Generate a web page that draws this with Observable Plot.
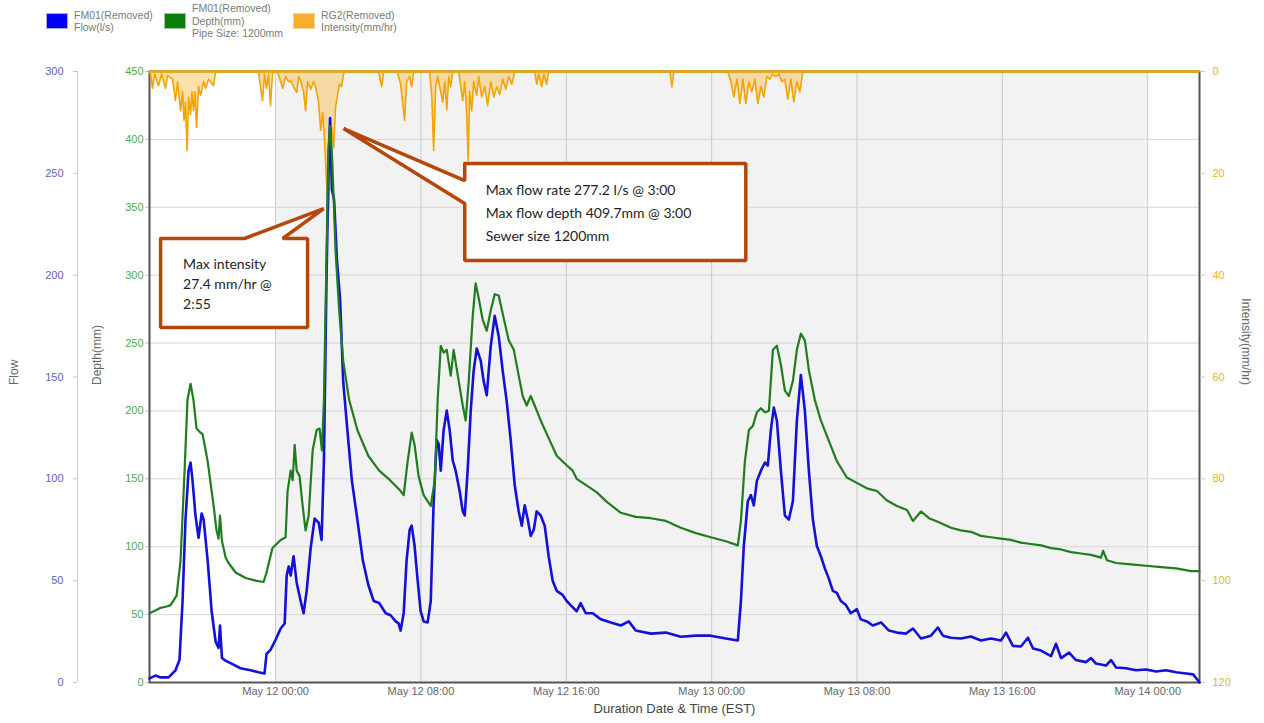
<!DOCTYPE html>
<html>
<head>
<meta charset="utf-8">
<script src="https://cdn.jsdelivr.net/npm/d3@7"></script>
<script src="https://cdn.jsdelivr.net/npm/@observablehq/plot@0.6"></script>
<style>
  body { margin: 0; background: #fff; font-family: "Liberation Sans", Arial, sans-serif; }
  #chart { position: relative; width: 1264px; height: 723px; overflow: hidden; }
  #chart > svg { position: absolute; left: 0; top: 0; }
  #legend { position: absolute; left: 46px; top: 2px; height: 38px; display: flex; align-items: center; z-index: 10; }
  .item { display: flex; align-items: center; }
  .item:nth-child(1) { width: 118px; }
  .item:nth-child(2) { width: 129px; }
  .sw { width: 20px; height: 14px; margin-right: 6px; border: 1px solid #ccc; }
  .txt { font-size: 10.5px; line-height: 12.5px; color: #7a7a7a; }
</style>
</head>
<body>
<div id="chart"><div id="legend"></div></div>
<script>
// ---- Data (time = hours relative to May 12 00:00) ----
const depthSeries = [
 [-6.94,51],[-6.61,53],[-6.33,55],[-6.0,56],[-5.78,57],[-5.45,64],[-5.23,90],[-5.01,156],[-4.85,208],[-4.68,220],
 [-4.52,208],[-4.35,187],[-4.13,184],[-4.02,183],[-3.74,163],[-3.41,130],[-3.25,112],[-3.14,106],[-3.06,123],[-2.95,104],
 [-2.75,92],[-2.59,88],[-2.20,81],[-1.65,77],[-1.10,75],[-0.66,74],[-0.50,81],[-0.17,99],[0.28,105],[0.55,107],
 [0.66,141],[0.83,156],[0.94,149],[1.05,175],[1.16,156],[1.32,152],[1.49,130],[1.65,112],[1.82,123],[2.04,171],
 [2.26,186],[2.42,187],[2.55,171],[2.66,208],[2.80,311],[2.90,392],[3.00,409.7],[3.12,384],[3.30,318],[3.50,274],
 [3.72,237],[4.05,208],[4.5,186],[5.1,167],[5.7,156],[6.3,149],[6.88,141],[7.05,138],[7.27,163],[7.49,184],
 [7.65,175],[7.87,152],[8.15,138],[8.54,130],[8.76,149],[8.92,208],[9.09,248],[9.25,243],[9.42,245],[9.64,226],
 [9.80,245],[10.08,222],[10.30,204],[10.46,193],[10.63,222],[10.85,270],[11.01,294],[11.18,283],[11.40,267],[11.62,259],
 [11.84,274],[12.06,286],[12.28,285],[12.56,268],[12.83,252],[13.11,245],[13.38,226],[13.60,211],[13.82,204],[14.04,211],
 [14.26,204],[14.59,193],[15.03,180],[15.47,167],[16.02,160],[16.35,156],[16.57,150],[17.13,145],[17.68,140],[18.23,133],
 [19.00,125],[19.82,122],[20.65,121],[21.48,119],[22.30,114],[23.13,110],[23.95,107],[24.78,104],[25.44,101],[25.61,119],
 [25.83,163],[26.05,186],[26.27,189],[26.49,199],[26.71,202],[26.93,199],[27.15,200],[27.37,245],[27.59,248],[27.81,234],
 [28.03,215],[28.25,211],[28.47,222],[28.69,245],[28.91,257],[29.13,252],[29.35,230],[29.68,208],[30.01,193],[30.45,178],
 [30.89,163],[31.44,151],[31.99,147],[32.54,143],[33.10,141],[33.65,134],[34.20,130],[34.75,127],[35.08,119],[35.52,126],
 [35.96,121],[36.51,118],[37.17,114],[37.72,112],[38.27,111],[38.82,108],[39.37,107],[39.92,106],[40.47,105],[41.02,103],
 [41.57,102],[42.13,101],[42.68,99],[43.23,98],[43.78,96],[44.33,95],[44.88,94],[45.43,92],[45.54,97],[45.76,90],
 [46.26,88],[47.08,87],[47.91,86],[48.73,85],[49.56,84],[50.39,82],[50.85,82]
];
const flowSeries = [
 [-6.94,2],[-6.61,3.4],[-6.33,2.5],[-5.89,2.5],[-5.51,6],[-5.29,11],[-5.12,40],[-4.96,80],[-4.79,104],[-4.68,108],
 [-4.57,99],[-4.41,82],[-4.24,71],[-4.07,83],[-3.96,80],[-3.74,60],[-3.52,35],[-3.30,20],[-3.14,17],[-3.06,28],
 [-2.95,12],[-2.81,11],[-2.37,9],[-1.93,7],[-1.38,6],[-0.94,5],[-0.61,4.4],[-0.50,14],[-0.28,16],[0,21],
 [0.28,26.5],[0.50,29],[0.61,52.5],[0.72,57],[0.83,52.5],[0.99,62],[1.16,49],[1.38,40],[1.54,34],[1.71,45],
 [1.93,66],[2.15,80.5],[2.37,78.5],[2.53,70],[2.66,109],[2.80,197],[2.90,246],[2.95,264],[3.00,277.2],[3.10,242],
 [3.22,237],[3.38,207],[3.55,188],[3.72,148],[3.95,124],[4.2,99],[4.5,80],[4.8,60],[5.1,48],[5.4,40],
 [5.7,39],[6.06,34],[6.33,33],[6.61,30],[6.77,29],[6.88,25.5],[7.05,34],[7.21,60],[7.38,75],[7.49,77],
 [7.65,67],[7.82,50],[7.98,35],[8.15,30],[8.37,29.5],[8.54,40],[8.70,89],[8.87,119],[8.98,117],[9.09,104],
 [9.25,124],[9.42,133.5],[9.58,124],[9.75,109],[9.91,104],[10.13,94],[10.30,84],[10.41,82],[10.57,104],[10.74,133.5],
 [10.90,153],[11.07,164],[11.29,158],[11.45,148],[11.62,141],[11.84,165],[12.06,180],[12.28,170],[12.50,153],[12.72,138],
 [12.94,119],[13.16,97],[13.38,84],[13.55,77],[13.71,87],[13.88,80],[14.04,72],[14.21,75],[14.37,84],[14.59,82],
 [14.81,77],[15.03,62],[15.25,50],[15.47,45],[15.80,43],[16.02,40],[16.24,38],[16.57,35],[16.79,39],[17.07,34],
 [17.46,34],[17.90,31],[18.45,29.5],[19.00,28],[19.44,30],[19.82,25.5],[20.65,24],[21.48,24.5],[22.30,22.5],[23.13,23],
 [23.95,23],[24.78,21.6],[25.44,20.6],[25.61,40],[25.77,67],[25.99,89],[26.16,92],[26.32,87],[26.49,99],[26.71,104],
 [26.93,108],[27.09,106.5],[27.26,124],[27.42,135],[27.59,128.6],[27.81,104],[28.03,82],[28.25,80],[28.47,89],[28.69,128.6],
 [28.91,151],[29.13,133.5],[29.35,104],[29.57,80],[29.79,67],[30.01,62],[30.23,56],[30.45,51],[30.67,45],[30.89,44],
 [31.11,40],[31.39,38],[31.66,34],[31.99,36],[32.21,31],[32.54,30],[32.87,28],[33.32,29.5],[33.76,25.5],[34.20,24.5],
 [34.69,24],[35.08,26.5],[35.52,21.6],[36.07,23],[36.45,27],[36.73,23],[37.17,22],[37.72,21.6],[38.27,22.6],[38.82,20.6],
 [39.37,21.6],[39.92,20.6],[40.20,24.5],[40.58,18],[41.02,17.7],[41.41,22],[41.69,16.7],[42.13,15.7],[42.68,13],[42.95,19],
 [43.23,12],[43.67,14.7],[44.05,11],[44.60,10],[44.88,12],[45.15,9.3],[45.70,8.3],[45.98,11],[46.26,7.4],[46.81,7],
 [47.36,6],[47.91,6.4],[48.46,5.4],[49.01,6],[49.56,5],[50.11,4.4],[50.50,4],[50.77,1],[50.85,0]
];
const intensitySeries = [
 [-6.94,0],[-6.88,0.5],[-6.77,3.3],[-6.66,0.5],[-6.44,2.8],[-6.28,0.5],[-6.06,3.3],[-5.95,0.8],[-5.67,1.5],[-5.51,5.7],
 [-5.40,2],[-5.23,7.7],[-5.12,4],[-5.04,9.6],[-4.96,6],[-4.87,15.5],[-4.79,5],[-4.68,8.5],[-4.60,4],[-4.52,7.7],
 [-4.44,4],[-4.35,11],[-4.24,3],[-4.13,4.7],[-3.96,2],[-3.85,3.3],[-3.69,1.5],[-3.58,2],[-3.41,2.8],[-3.30,0],
 [-0.94,0],[-0.72,5.7],[-0.61,0.5],[-0.50,3.3],[-0.39,0.5],[-0.28,6.7],[-0.17,0.3],[0.1,0],[0.28,2],[0.39,3.3],
 [0.55,1],[0.72,2],[0.83,1.8],[0.99,3],[1.16,4.1],[1.27,1],[1.38,1.8],[1.54,4],[1.65,7.7],[1.76,2],
 [1.93,3.5],[2.09,2],[2.20,3],[2.37,6],[2.48,11.6],[2.59,8],[2.70,14],[2.81,22],[2.92,27.4],[3.00,18],
 [3.08,11],[3.19,15],[3.30,7],[3.41,4.5],[3.52,2.5],[3.63,3],[3.74,0.5],[3.85,0],
 [5.67,0],[5.84,3],[5.95,0],
 [6.70,0],[6.88,2.5],[6.99,6],[7.10,9.6],[7.21,2],[7.38,1],[7.49,3],[7.60,0],
 [8.48,0],[8.60,5],[8.70,15.5],[8.81,3],[8.92,1],[9.09,4],[9.20,6],[9.31,2],[9.42,7.5],[9.53,1],[9.64,3],[9.75,0],
 [10.08,0],[10.19,3],[10.30,5.7],[10.41,2],[10.52,8.5],[10.60,17.5],[10.68,4],[10.79,7.7],[10.90,2],[11.07,4.7],
 [11.18,1],[11.34,5],[11.51,3],[11.67,6.7],[11.84,2],[12.01,5],[12.17,3],[12.34,4.5],[12.50,1.5],[12.67,3.5],
 [12.83,1],[13.00,2.5],[13.16,0],
 [14.26,0],[14.37,2.5],[14.48,0.5],[14.65,3],[14.76,0.5],[14.92,2.5],[15.03,0],
 [21.70,0],[21.81,3],[21.92,0],
 [24.89,0],[25.06,2],[25.22,5],[25.39,1.5],[25.55,6.3],[25.72,1.5],[25.88,6.3],[26.05,2],[26.21,4],[26.38,1.5],
 [26.54,6.3],[26.71,3],[26.87,5],[27.04,1],[27.20,1.5],[27.37,0.5],[27.53,1],[27.70,0.5],[27.86,2],[28.03,1.5],
 [28.19,5.5],[28.36,1.5],[28.52,6],[28.69,2],[28.85,4],[29.02,0],
 [50.85,0]
];
const xTickHours = [0, 8, 16, 24, 32, 40, 48];
const shadedBands = [[0, 48]];
const depthTicks = [0, 50, 100, 150, 200, 250, 300, 350, 400, 450];
const flowTicks = [0, 50, 100, 150, 200, 250, 300];
const intensityTicks = [0, 20, 40, 60, 80, 100, 120];
const legendItems = [
  {color: "#0000f0", border: "#a8a8e8", lines: ["FM01(Removed)", "Flow(l/s)"]},
  {color: "#0b7d0b", border: "#9cc89c", lines: ["FM01(Removed)", "Depth(mm)", "Pipe Size: 1200mm"]},
  {color: "#f7ae2a", border: "#f6d29a", lines: ["RG2(Removed)", "Intensity(mm/hr)"]}
];
// callout outlines in data units [hour, depth mm]
const calloutFlow = [[10.41,382.2],[25.88,382.2],[25.88,310.8],[10.41,310.8],[10.41,352.8],[3.74,408],[10.41,369.7],[10.41,382.2]];
const calloutIntensity = [[-6.33,327],[-1.71,327],[2.65,349],[0.39,327],[1.76,327],[1.76,261.5],[-6.33,261.5],[-6.33,327]];
const calloutFlowText = {h: 11.56, depth: 347.6, text: "Max flow rate 277.2 l/s @ 3:00\nMax flow depth 409.7mm @ 3:00\nSewer size 1200mm"};
const calloutIntensityText = {h: -5.09, depth: 294.6, text: "Max intensity\n27.4 mm/hr @\n2:55"};

// ---- Helpers ----
const BASE = new Date(2023, 4, 12, 0, 0);
const t = h => new Date(+BASE + h * 3600e3);
const X = d => t(d[0]);
const Y = d => d[1];
const xDomain = [t(depthSeries[0][0]), t(depthSeries[depthSeries.length - 1][0])];
const xTicks = xTickHours.map(t);
const chart = document.getElementById("chart");
const dims = {width: 1264, height: 723, marginLeft: 149, marginRight: 65, marginTop: 71, marginBottom: 41};
const style = {background: "transparent", fontFamily: "'Liberation Sans', Arial, sans-serif", fontSize: "11px", color: "#555", overflow: "visible"};
function layer(opts) {
  const svg = Plot.plot({...dims, style, ...opts});
  chart.appendChild(svg);
}

// ---- Base layer: background, grid, depth axis, x axis ----
layer({
  x: {type: "time", domain: xDomain},
  y: {domain: [0, 450]},
  marks: [
    Plot.rect(shadedBands, {x1: d => t(d[0]), x2: d => t(d[1]), fill: "#f2f2f2"}),
    Plot.gridX(xTicks, {stroke: "#c9c9c9", strokeOpacity: 1}),
    Plot.gridY(depthTicks, {stroke: "#d6d6d6", strokeOpacity: 1}),
    Plot.axisY(depthTicks, {anchor: "left", tickSize: 4, tickPadding: 2, fill: "#4fa94f", stroke: "#c4c4c4", label: null}),
    Plot.axisX(xTicks, {anchor: "bottom", tickSize: 0, tickPadding: 5, tickFormat: d3.timeFormat("%b %d %H:%M"), fill: "#666", label: null}),
    Plot.frame({stroke: "#555", strokeWidth: 2}),
    Plot.text(["Depth(mm)"], {frameAnchor: "left", rotate: -90, dx: -52, dy: 8, fill: "#666", fontSize: 12}),
    Plot.text(["Flow"], {frameAnchor: "left", rotate: -90, dx: -135, dy: 8, fill: "#666", fontSize: 12}),
    Plot.text(["Duration Date & Time (EST)"], {frameAnchor: "bottom", dy: 30, fill: "#444", fontSize: 13})
  ]
});

// ---- Intensity layer (reversed axis on the right) ----
layer({
  x: {type: "time", domain: xDomain, axis: null},
  y: {domain: [0, 120], reverse: true},
  marks: [
    Plot.areaY(intensitySeries, {x: X, y1: 0, y2: Y, fill: "#fbc566", fillOpacity: 0.55}),
    Plot.lineY(intensitySeries, {x: X, y: Y, stroke: "#f4a300", strokeWidth: 1.6}),
    Plot.ruleY([0], {stroke: "#e9a80d", strokeWidth: 2.5}),
    Plot.axisY(intensityTicks, {anchor: "right", tickSize: 5, tickPadding: 8, fill: "#e6b52a", stroke: "#c8c8c8", label: null}),
    Plot.text(["Intensity(mm/hr)"], {frameAnchor: "right", rotate: 90, dx: 46, dy: 8, fill: "#666", fontSize: 12})
  ]
});

// ---- Flow layer (own axis, offset to the left) ----
layer({
  x: {type: "time", domain: xDomain, axis: null},
  y: {domain: [0, 300]},
  marks: [
    Plot.ruleX([xDomain[0]], {dx: -72, stroke: "#d0d0d0"}),
    Plot.axisY(flowTicks, {anchor: "left", dx: -72, tickSize: 4, tickPadding: 10, fill: "#6262bd", stroke: "#c4c4c4", label: null}),
    Plot.lineY(flowSeries, {x: X, y: Y, stroke: "#1212d6", strokeWidth: 2.6})
  ]
});

// ---- Depth layer (drawn above flow) ----
layer({
  x: {type: "time", domain: xDomain, axis: null},
  y: {domain: [0, 450], axis: null},
  marks: [
    Plot.lineY(depthSeries, {x: X, y: Y, stroke: "#1f7d1f", strokeWidth: 2.2})
  ]
});

// ---- Annotation layer ----
layer({
  x: {type: "time", domain: xDomain, axis: null},
  y: {domain: [0, 450], axis: null},
  marks: [
    Plot.line(calloutFlow, {x: X, y: Y, fill: "white", stroke: "#b5470d", strokeWidth: 3.5, strokeLinejoin: "miter", curve: "linear"}),
    Plot.line(calloutIntensity, {x: X, y: Y, fill: "white", stroke: "#b5470d", strokeWidth: 3.5, strokeLinejoin: "miter", curve: "linear"}),
    Plot.text([calloutFlowText], {x: d => t(d.h), y: d => d.depth, text: d => d.text, textAnchor: "start", lineAnchor: "middle", fontSize: 14, fontFamily: "Lato, 'Open Sans', sans-serif", lineHeight: 1.64, fill: "#1e1e1e"}),
    Plot.text([calloutIntensityText], {x: d => t(d.h), y: d => d.depth, text: d => d.text, textAnchor: "start", lineAnchor: "middle", fontSize: 14, fontFamily: "Lato, 'Open Sans', sans-serif", lineHeight: 1.43, fill: "#1e1e1e"})
  ]
});

// ---- Legend ----
const legend = document.getElementById("legend");
for (const it of legendItems) {
  const item = document.createElement("div");
  item.className = "item";
  const sw = document.createElement("div");
  sw.className = "sw";
  sw.style.background = it.color;
  sw.style.borderColor = it.border;
  const tx = document.createElement("div");
  tx.className = "txt";
  tx.innerHTML = it.lines.join("<br>");
  item.appendChild(sw);
  item.appendChild(tx);
  legend.appendChild(item);
}
</script>
</body>
</html>
